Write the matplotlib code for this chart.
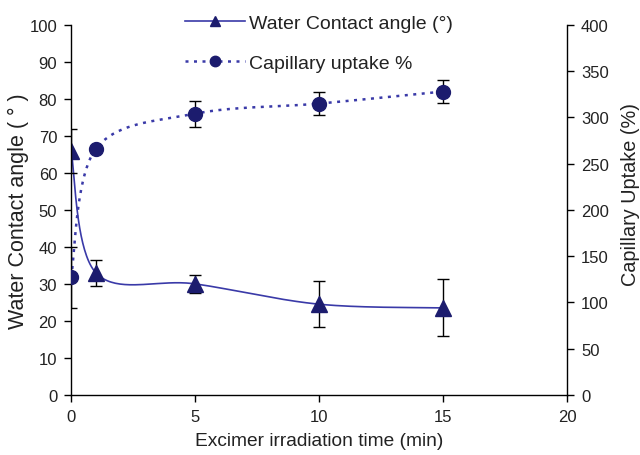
import numpy as np
import matplotlib.pyplot as plt

plt.rcParams['font.family'] = ['Liberation Sans', 'DejaVu Sans']

time_min = [0, 1, 5, 10, 15]
contact_angle = [66, 33, 30, 24.5, 23.5]
contact_err = [6, 3.5, 2.5, 6.2, 7.7]
uptake = [127, 266, 304, 315, 328]
uptake_err = [33, 0, 14, 12, 12.5]

navy = '#1c1c6e'
line_blue = '#3a3aa8'
txt = '#222222'


def smooth(x, y, n=40):
    # excel-style bezier smoothing through the points
    p = np.column_stack([x, y]).astype(float)
    out = []
    for i in range(len(p) - 1):
        p0 = p[max(i - 1, 0)]
        p1 = p[i]
        p2 = p[i + 1]
        p3 = p[min(i + 2, len(p) - 1)]
        b1 = p1 + (p2 - p0) / 6
        b2 = p2 - (p3 - p1) / 6
        t = np.linspace(0, 1, n)[:, None]
        seg = ((1 - t) ** 3) * p1 + 3 * ((1 - t) ** 2) * t * b1 + 3 * (1 - t) * t ** 2 * b2 + t ** 3 * p2
        out.append(seg)
    c = np.vstack(out)
    return c[:, 0], c[:, 1]


fig = plt.figure(figsize=(6.4, 4.56), dpi=100)
ax = fig.add_axes([0.111, 0.132, 0.775, 0.811])
ax2 = ax.twinx()

sx, sy = smooth(time_min, contact_angle)
ax.plot(sx, sy, color=line_blue, lw=1.2)
ax.errorbar(time_min, contact_angle, yerr=contact_err, fmt='none', ecolor='black',
            elinewidth=1, capsize=4, capthick=1)
ax.plot(time_min, contact_angle, ls='none', marker='^', ms=11, color=navy)

ux, uy = smooth(time_min, uptake)
ax2.plot(ux, uy, color=line_blue, lw=1.8, ls=(0, (1.2, 2.2)))
ax2.errorbar(time_min, uptake, yerr=uptake_err, fmt='none', ecolor='black',
             elinewidth=1, capsize=4, capthick=1)
ax2.plot(time_min, uptake, ls='none', marker='o', ms=10, color=navy)

ax.set_xlim(0, 20)
ax.set_ylim(0, 100)
ax2.set_ylim(0, 400)
ax.set_xticks([0, 5, 10, 15, 20])
ax.set_yticks(np.arange(0, 101, 10))
ax2.set_yticks(np.arange(0, 401, 50))

for a in (ax, ax2):
    a.spines['top'].set_visible(False)
    a.tick_params(direction='out', length=5, width=1, labelsize=12, colors='black',
                  labelcolor=txt, pad=5)
ax.spines['right'].set_visible(False)
ax2.spines['left'].set_visible(False)
ax2.spines['bottom'].set_visible(False)
for s in ('left', 'bottom'):
    ax.spines[s].set_linewidth(1)
ax2.spines['right'].set_linewidth(1)

ax.set_xlabel('Excimer irradiation time (min)', fontsize=13.8, labelpad=6, color=txt)
ax.set_ylabel('Water Contact angle ( ° )', fontsize=15.5, labelpad=0, color=txt)
ax2.set_ylabel('Capillary Uptake (%)', fontsize=14.3, color=txt)
ax2.yaxis.set_label_coords(1.109, 0.543)

h1 = plt.Line2D([], [], color=line_blue, lw=1.2, marker='^', ms=7.5, mfc=navy, mec=navy)
h2 = plt.Line2D([], [], color=line_blue, lw=1.8, ls=(0, (1.2, 2.2)), marker='o', ms=7.5, mfc=navy, mec=navy)
leg = fig.legend([h1, h2], ['Water Contact angle (°)', 'Capillary uptake %'], loc='upper left',
                 bbox_to_anchor=(0.289, 0.967), frameon=False, fontsize=14, labelspacing=1.15,
                 handlelength=3.1, handletextpad=0.2, borderpad=0, borderaxespad=0)
for t in leg.get_texts():
    t.set_color(txt)

fig.savefig('out.png', dpi=100)
